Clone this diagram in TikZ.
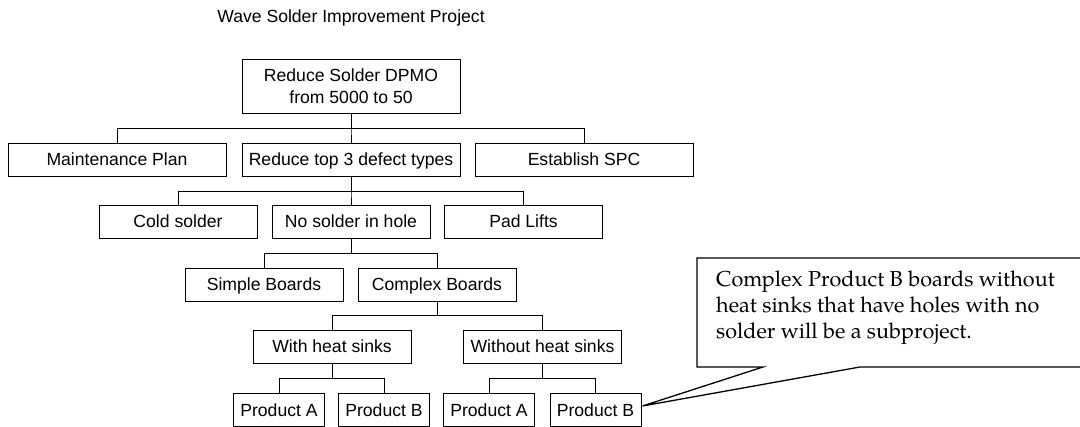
\documentclass[tikz,border=0pt]{standalone}
\usepackage{fontspec}
\setmainfont{Liberation Sans}
\newfontfamily\notefont{TeX Gyre Pagella}
\usetikzlibrary{calc}
\begin{document}
\begin{tikzpicture}[x=1pt,y=-1pt,
  box/.style={draw, line width=0.9pt, inner sep=0pt, minimum height=33pt,
    text height=12.6pt, text depth=0pt, font=\fontsize{17.6}{21.5}\selectfont},
  wide/.style={box, minimum width=218pt},
  mid/.style={box, minimum width=158pt},
  small/.style={box, minimum width=91pt},
  link/.style={line width=0.9pt}]
\useasboundingbox (0,0) rectangle (1080,427);

% title
\node[anchor=base, font=\fontsize{17.6}{20}\selectfont] (title) at (351,22.4)
  {Wave Solder Improvement Project};

% root
\node[box, minimum width=218pt, minimum height=54pt, align=center,
  text height=34.1pt, text depth=0pt] (root) at (351,86)
  {Reduce Solder DPMO\\from 5000 to 50};

% level 1
\node[wide] (mp) at (117,159.5) {Maintenance Plan};
\node[wide] (rt) at (351,159.5) {Reduce top 3 defect types};
\node[wide] (es) at (584,159.5) {Establish SPC};

% level 2
\node[mid] (cs) at (178,221.5) {Cold solder};
\node[mid] (ns) at (351,221.5) {No solder in hole};
\node[mid] (pl) at (523.5,221.5) {Pad Lifts};

% level 3
\node[mid] (sb) at (264,284.5) {Simple Boards};
\node[mid] (cb) at (437,284.5) {Complex Boards};

% level 4
\node[mid] (wh) at (332,346.5) {With heat sinks};
\node[mid] (wo) at (542.5,346.5) {Without heat sinks};

% level 5
\node[small] (pa1) at (279,410) {Product A};
\node[small] (pb1) at (384,410) {Product B};
\node[small] (pa2) at (489,410) {Product A};
\node[small] (pb2) at (595.5,410) {Product B};

% bus heights
\coordinate (b1) at (0,128);
\coordinate (b2) at (0,191);
\coordinate (b3) at (0,253.5);
\coordinate (b4) at (0,315.5);
\coordinate (b5) at (0,378);

% connectors
\foreach \p/\c/\b in {root/mp/b1, root/rt/b1, root/es/b1,
                      rt/cs/b2, rt/ns/b2, rt/pl/b2,
                      ns/sb/b3, ns/cb/b3,
                      cb/wh/b4, cb/wo/b4,
                      wh/pa1/b5, wh/pb1/b5, wo/pa2/b5, wo/pb2/b5}
  \draw[link] (\p.south) -- (\p.south |- \b) -| (\c.north);

% callout
\coordinate (tip) at ($(pb2.east)+(1,-4)$);
\draw[line width=1.3pt, line join=miter]
  (697,258) -- (1082,258) -- (1082,367) -- (860,367) -- (tip)
  -- (763,367) -- (697,367) -- cycle;
\node[anchor=base west, align=left, inner sep=0pt,
  font=\notefont\fontsize{21.6}{26}\selectfont] (note) at (716,338.7)
  {Complex Product B boards without\\heat sinks that have holes with no\\solder will be a subproject.};
\end{tikzpicture}
\end{document}
